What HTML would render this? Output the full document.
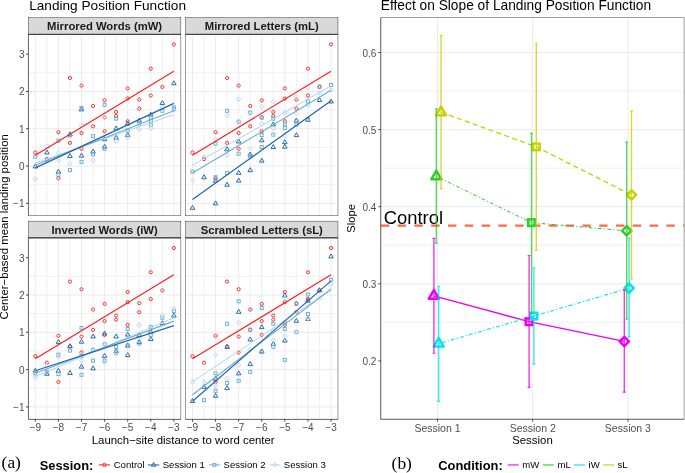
<!DOCTYPE html>
<html><head><meta charset="utf-8"><title>Landing Position Function</title>
<style>html,body{margin:0;padding:0;background:#fff;width:685px;height:473px;overflow:hidden;font-family:"Liberation Sans", sans-serif;}</style>
</head><body>
<svg width="685" height="473" viewBox="0 0 685 473" style="position:absolute;left:0;top:0;will-change:transform">
<rect width="685" height="473" fill="#fff"/>
<text x="29.2" y="10.1" font-family='"Liberation Sans", sans-serif' font-size="13.63" fill="#000">Landing Position Function</text>
<text x="380.8" y="10.1" font-family='"Liberation Sans", sans-serif' font-size="13.75" fill="#000">Effect on Slope of Landing Position Function</text>
<rect x="28.40" y="17.60" width="152.40" height="16.7" fill="#D9D9D9" stroke="#333333" stroke-width="0.6" stroke-opacity="0.8"/>
<text x="104.60" y="30.30" text-anchor="middle" font-family='"Liberation Sans", sans-serif' font-weight="bold" font-size="11.27" fill="#1A1A1A">Mirrored Words (mW)</text>
<rect x="28.40" y="34.30" width="152.40" height="181.40" fill="#fff"/>
<line x1="35.33" y1="34.30" x2="35.33" y2="215.70" stroke="#EBEBEB" stroke-width="1.0"/>
<line x1="46.87" y1="34.30" x2="46.87" y2="215.70" stroke="#EBEBEB" stroke-width="0.7"/>
<line x1="58.42" y1="34.30" x2="58.42" y2="215.70" stroke="#EBEBEB" stroke-width="1.0"/>
<line x1="69.96" y1="34.30" x2="69.96" y2="215.70" stroke="#EBEBEB" stroke-width="0.7"/>
<line x1="81.51" y1="34.30" x2="81.51" y2="215.70" stroke="#EBEBEB" stroke-width="1.0"/>
<line x1="93.05" y1="34.30" x2="93.05" y2="215.70" stroke="#EBEBEB" stroke-width="0.7"/>
<line x1="104.60" y1="34.30" x2="104.60" y2="215.70" stroke="#EBEBEB" stroke-width="1.0"/>
<line x1="116.15" y1="34.30" x2="116.15" y2="215.70" stroke="#EBEBEB" stroke-width="0.7"/>
<line x1="127.69" y1="34.30" x2="127.69" y2="215.70" stroke="#EBEBEB" stroke-width="1.0"/>
<line x1="139.24" y1="34.30" x2="139.24" y2="215.70" stroke="#EBEBEB" stroke-width="0.7"/>
<line x1="150.78" y1="34.30" x2="150.78" y2="215.70" stroke="#EBEBEB" stroke-width="1.0"/>
<line x1="162.33" y1="34.30" x2="162.33" y2="215.70" stroke="#EBEBEB" stroke-width="0.7"/>
<line x1="173.87" y1="34.30" x2="173.87" y2="215.70" stroke="#EBEBEB" stroke-width="1.0"/>
<line x1="28.40" y1="203.31" x2="180.80" y2="203.31" stroke="#EBEBEB" stroke-width="1.0"/>
<line x1="28.40" y1="184.66" x2="180.80" y2="184.66" stroke="#EBEBEB" stroke-width="0.7"/>
<line x1="28.40" y1="166.01" x2="180.80" y2="166.01" stroke="#EBEBEB" stroke-width="1.0"/>
<line x1="28.40" y1="147.36" x2="180.80" y2="147.36" stroke="#EBEBEB" stroke-width="0.7"/>
<line x1="28.40" y1="128.71" x2="180.80" y2="128.71" stroke="#EBEBEB" stroke-width="1.0"/>
<line x1="28.40" y1="110.06" x2="180.80" y2="110.06" stroke="#EBEBEB" stroke-width="0.7"/>
<line x1="28.40" y1="91.41" x2="180.80" y2="91.41" stroke="#EBEBEB" stroke-width="1.0"/>
<line x1="28.40" y1="72.76" x2="180.80" y2="72.76" stroke="#EBEBEB" stroke-width="0.7"/>
<circle cx="35.33" cy="152.58" r="1.6" fill="none" stroke="#FF1F1F" stroke-width="0.9"/>
<circle cx="46.87" cy="159.11" r="1.6" fill="none" stroke="#FF1F1F" stroke-width="0.9"/>
<circle cx="58.42" cy="132.25" r="1.6" fill="none" stroke="#FF1F1F" stroke-width="0.9"/>
<circle cx="58.42" cy="178.32" r="1.6" fill="none" stroke="#FF1F1F" stroke-width="0.9"/>
<circle cx="69.96" cy="77.98" r="1.6" fill="none" stroke="#FF1F1F" stroke-width="0.9"/>
<circle cx="69.96" cy="142.88" r="1.6" fill="none" stroke="#FF1F1F" stroke-width="0.9"/>
<circle cx="81.51" cy="85.62" r="1.6" fill="none" stroke="#FF1F1F" stroke-width="0.9"/>
<circle cx="81.51" cy="133.00" r="1.6" fill="none" stroke="#FF1F1F" stroke-width="0.9"/>
<circle cx="81.51" cy="148.85" r="1.6" fill="none" stroke="#FF1F1F" stroke-width="0.9"/>
<circle cx="93.05" cy="105.95" r="1.6" fill="none" stroke="#FF1F1F" stroke-width="0.9"/>
<circle cx="93.05" cy="126.28" r="1.6" fill="none" stroke="#FF1F1F" stroke-width="0.9"/>
<circle cx="104.60" cy="100.36" r="1.6" fill="none" stroke="#FF1F1F" stroke-width="0.9"/>
<circle cx="104.60" cy="117.52" r="1.6" fill="none" stroke="#FF1F1F" stroke-width="0.9"/>
<circle cx="104.60" cy="131.32" r="1.6" fill="none" stroke="#FF1F1F" stroke-width="0.9"/>
<circle cx="116.15" cy="111.92" r="1.6" fill="none" stroke="#FF1F1F" stroke-width="0.9"/>
<circle cx="116.15" cy="116.02" r="1.6" fill="none" stroke="#FF1F1F" stroke-width="0.9"/>
<circle cx="127.69" cy="88.42" r="1.6" fill="none" stroke="#FF1F1F" stroke-width="0.9"/>
<circle cx="127.69" cy="98.49" r="1.6" fill="none" stroke="#FF1F1F" stroke-width="0.9"/>
<circle cx="127.69" cy="121.25" r="1.6" fill="none" stroke="#FF1F1F" stroke-width="0.9"/>
<circle cx="139.24" cy="99.61" r="1.6" fill="none" stroke="#FF1F1F" stroke-width="0.9"/>
<circle cx="139.24" cy="108.56" r="1.6" fill="none" stroke="#FF1F1F" stroke-width="0.9"/>
<circle cx="150.78" cy="68.65" r="1.6" fill="none" stroke="#FF1F1F" stroke-width="0.9"/>
<circle cx="150.78" cy="95.51" r="1.6" fill="none" stroke="#FF1F1F" stroke-width="0.9"/>
<circle cx="162.33" cy="86.93" r="1.6" fill="none" stroke="#FF1F1F" stroke-width="0.9"/>
<circle cx="173.87" cy="44.41" r="1.6" fill="none" stroke="#FF1F1F" stroke-width="0.9"/>
<path d="M35.33 163.96L37.62 167.93L33.04 167.93Z" fill="none" stroke="#2166AC" stroke-width="0.95" stroke-linejoin="round"/>
<path d="M46.87 149.98L49.16 153.94L44.58 153.94Z" fill="none" stroke="#2166AC" stroke-width="0.95" stroke-linejoin="round"/>
<path d="M58.42 169.18L60.71 173.15L56.13 173.15Z" fill="none" stroke="#2166AC" stroke-width="0.95" stroke-linejoin="round"/>
<path d="M69.96 131.88L72.25 135.85L67.67 135.85Z" fill="none" stroke="#2166AC" stroke-width="0.95" stroke-linejoin="round"/>
<path d="M69.96 153.52L72.25 157.48L67.67 157.48Z" fill="none" stroke="#2166AC" stroke-width="0.95" stroke-linejoin="round"/>
<path d="M81.51 106.89L83.80 110.86L79.22 110.86Z" fill="none" stroke="#2166AC" stroke-width="0.95" stroke-linejoin="round"/>
<path d="M81.51 153.15L83.80 157.11L79.22 157.11Z" fill="none" stroke="#2166AC" stroke-width="0.95" stroke-linejoin="round"/>
<path d="M93.05 149.04L95.34 153.01L90.76 153.01Z" fill="none" stroke="#2166AC" stroke-width="0.95" stroke-linejoin="round"/>
<path d="M104.60 136.73L106.89 140.70L102.31 140.70Z" fill="none" stroke="#2166AC" stroke-width="0.95" stroke-linejoin="round"/>
<path d="M104.60 144.19L106.89 148.16L102.31 148.16Z" fill="none" stroke="#2166AC" stroke-width="0.95" stroke-linejoin="round"/>
<path d="M116.15 125.92L118.44 129.88L113.86 129.88Z" fill="none" stroke="#2166AC" stroke-width="0.95" stroke-linejoin="round"/>
<path d="M116.15 135.24L118.44 139.21L113.86 139.21Z" fill="none" stroke="#2166AC" stroke-width="0.95" stroke-linejoin="round"/>
<path d="M127.69 121.07L129.98 125.03L125.40 125.03Z" fill="none" stroke="#2166AC" stroke-width="0.95" stroke-linejoin="round"/>
<path d="M127.69 132.63L129.98 136.60L125.40 136.60Z" fill="none" stroke="#2166AC" stroke-width="0.95" stroke-linejoin="round"/>
<path d="M139.24 118.08L141.53 122.05L136.95 122.05Z" fill="none" stroke="#2166AC" stroke-width="0.95" stroke-linejoin="round"/>
<path d="M150.78 112.12L153.07 116.08L148.49 116.08Z" fill="none" stroke="#2166AC" stroke-width="0.95" stroke-linejoin="round"/>
<path d="M162.33 100.55L164.62 104.52L160.04 104.52Z" fill="none" stroke="#2166AC" stroke-width="0.95" stroke-linejoin="round"/>
<path d="M173.87 80.78L176.16 84.75L171.58 84.75Z" fill="none" stroke="#2166AC" stroke-width="0.95" stroke-linejoin="round"/>
<rect x="33.82" y="155.17" width="3.01" height="3.01" fill="none" stroke="#6BAED6" stroke-width="0.95"/>
<rect x="45.37" y="158.16" width="3.01" height="3.01" fill="none" stroke="#6BAED6" stroke-width="0.95"/>
<rect x="80.00" y="106.31" width="3.01" height="3.01" fill="none" stroke="#6BAED6" stroke-width="0.95"/>
<rect x="56.91" y="139.14" width="3.01" height="3.01" fill="none" stroke="#6BAED6" stroke-width="0.95"/>
<rect x="56.91" y="173.45" width="3.01" height="3.01" fill="none" stroke="#6BAED6" stroke-width="0.95"/>
<rect x="68.46" y="133.91" width="3.01" height="3.01" fill="none" stroke="#6BAED6" stroke-width="0.95"/>
<rect x="68.46" y="168.60" width="3.01" height="3.01" fill="none" stroke="#6BAED6" stroke-width="0.95"/>
<rect x="80.00" y="160.40" width="3.01" height="3.01" fill="none" stroke="#6BAED6" stroke-width="0.95"/>
<rect x="91.55" y="134.66" width="3.01" height="3.01" fill="none" stroke="#6BAED6" stroke-width="0.95"/>
<rect x="91.55" y="152.94" width="3.01" height="3.01" fill="none" stroke="#6BAED6" stroke-width="0.95"/>
<rect x="103.09" y="103.33" width="3.01" height="3.01" fill="none" stroke="#6BAED6" stroke-width="0.95"/>
<rect x="103.09" y="147.34" width="3.01" height="3.01" fill="none" stroke="#6BAED6" stroke-width="0.95"/>
<rect x="114.64" y="117.13" width="3.01" height="3.01" fill="none" stroke="#6BAED6" stroke-width="0.95"/>
<rect x="126.18" y="129.06" width="3.01" height="3.01" fill="none" stroke="#6BAED6" stroke-width="0.95"/>
<rect x="137.73" y="121.98" width="3.01" height="3.01" fill="none" stroke="#6BAED6" stroke-width="0.95"/>
<rect x="149.28" y="116.01" width="3.01" height="3.01" fill="none" stroke="#6BAED6" stroke-width="0.95"/>
<rect x="149.28" y="119.37" width="3.01" height="3.01" fill="none" stroke="#6BAED6" stroke-width="0.95"/>
<rect x="149.28" y="123.10" width="3.01" height="3.01" fill="none" stroke="#6BAED6" stroke-width="0.95"/>
<rect x="160.82" y="109.30" width="3.01" height="3.01" fill="none" stroke="#6BAED6" stroke-width="0.95"/>
<rect x="172.37" y="105.94" width="3.01" height="3.01" fill="none" stroke="#6BAED6" stroke-width="0.95"/>
<rect x="172.37" y="107.43" width="3.01" height="3.01" fill="none" stroke="#6BAED6" stroke-width="0.95"/>
<path d="M35.33 176.87L37.52 179.06L35.33 181.25L33.13 179.06Z" fill="none" stroke="#B3D3EA" stroke-width="0.95" stroke-linejoin="round"/>
<path d="M46.87 143.67L49.07 145.86L46.87 148.06L44.68 145.86Z" fill="none" stroke="#B3D3EA" stroke-width="0.95" stroke-linejoin="round"/>
<path d="M58.42 150.76L60.61 152.95L58.42 155.14L56.22 152.95Z" fill="none" stroke="#B3D3EA" stroke-width="0.95" stroke-linejoin="round"/>
<path d="M58.42 158.22L60.61 160.41L58.42 162.60L56.22 160.41Z" fill="none" stroke="#B3D3EA" stroke-width="0.95" stroke-linejoin="round"/>
<path d="M69.96 161.39L72.16 163.58L69.96 165.78L67.77 163.58Z" fill="none" stroke="#B3D3EA" stroke-width="0.95" stroke-linejoin="round"/>
<path d="M81.51 123.16L83.70 125.35L81.51 127.54L79.32 125.35Z" fill="none" stroke="#B3D3EA" stroke-width="0.95" stroke-linejoin="round"/>
<path d="M93.05 158.22L95.25 160.41L93.05 162.60L90.86 160.41Z" fill="none" stroke="#B3D3EA" stroke-width="0.95" stroke-linejoin="round"/>
<path d="M104.60 115.32L106.79 117.52L104.60 119.71L102.41 117.52Z" fill="none" stroke="#B3D3EA" stroke-width="0.95" stroke-linejoin="round"/>
<path d="M116.15 138.82L118.34 141.02L116.15 143.21L113.95 141.02Z" fill="none" stroke="#B3D3EA" stroke-width="0.95" stroke-linejoin="round"/>
<path d="M127.69 135.47L129.88 137.66L127.69 139.85L125.50 137.66Z" fill="none" stroke="#B3D3EA" stroke-width="0.95" stroke-linejoin="round"/>
<path d="M139.24 127.26L141.43 129.45L139.24 131.65L137.04 129.45Z" fill="none" stroke="#B3D3EA" stroke-width="0.95" stroke-linejoin="round"/>
<path d="M150.78 126.14L152.98 128.33L150.78 130.53L148.59 128.33Z" fill="none" stroke="#B3D3EA" stroke-width="0.95" stroke-linejoin="round"/>
<path d="M162.33 105.25L164.52 107.45L162.33 109.64L160.13 107.45Z" fill="none" stroke="#B3D3EA" stroke-width="0.95" stroke-linejoin="round"/>
<path d="M173.87 107.86L176.07 110.06L173.87 112.25L171.68 110.06Z" fill="none" stroke="#B3D3EA" stroke-width="0.95" stroke-linejoin="round"/>
<line x1="35.33" y1="163.02" x2="173.87" y2="114.53" stroke="#B3D3EA" stroke-width="1.0"/>
<line x1="35.33" y1="164.89" x2="173.87" y2="110.80" stroke="#6BAED6" stroke-width="1.1"/>
<line x1="35.33" y1="167.87" x2="173.87" y2="103.34" stroke="#2166AC" stroke-width="1.2"/>
<line x1="35.33" y1="155.26" x2="173.87" y2="71.15" stroke="#FF1F1F" stroke-width="1.2"/>
<rect x="28.40" y="34.30" width="152.40" height="181.40" fill="none" stroke="#333333" stroke-width="0.6" stroke-opacity="0.8"/>
<line x1="28.40" y1="34.30" x2="180.80" y2="34.30" stroke="#333" stroke-width="1"/>
<line x1="26.00" y1="54.11" x2="28.40" y2="54.11" stroke="#333" stroke-width="0.9"/>
<text x="24.50" y="58.11" text-anchor="end" font-family='"Liberation Sans", sans-serif' font-size="10" fill="#4D4D4D">3</text>
<line x1="26.00" y1="91.41" x2="28.40" y2="91.41" stroke="#333" stroke-width="0.9"/>
<text x="24.50" y="95.41" text-anchor="end" font-family='"Liberation Sans", sans-serif' font-size="10" fill="#4D4D4D">2</text>
<line x1="26.00" y1="128.71" x2="28.40" y2="128.71" stroke="#333" stroke-width="0.9"/>
<text x="24.50" y="132.71" text-anchor="end" font-family='"Liberation Sans", sans-serif' font-size="10" fill="#4D4D4D">1</text>
<line x1="26.00" y1="166.01" x2="28.40" y2="166.01" stroke="#333" stroke-width="0.9"/>
<text x="24.50" y="170.01" text-anchor="end" font-family='"Liberation Sans", sans-serif' font-size="10" fill="#4D4D4D">0</text>
<line x1="26.00" y1="203.31" x2="28.40" y2="203.31" stroke="#333" stroke-width="0.9"/>
<text x="24.50" y="207.31" text-anchor="end" font-family='"Liberation Sans", sans-serif' font-size="10" fill="#4D4D4D">−1</text>
<line x1="28.40" y1="34.30" x2="28.40" y2="215.70" stroke="#333" stroke-width="0.8" stroke-opacity="0.6"/>
<rect x="185.55" y="17.60" width="152.40" height="16.7" fill="#D9D9D9" stroke="#333333" stroke-width="0.6" stroke-opacity="0.8"/>
<text x="261.75" y="30.30" text-anchor="middle" font-family='"Liberation Sans", sans-serif' font-weight="bold" font-size="11.27" fill="#1A1A1A">Mirrored Letters (mL)</text>
<rect x="185.55" y="34.30" width="152.40" height="181.40" fill="#fff"/>
<line x1="192.48" y1="34.30" x2="192.48" y2="215.70" stroke="#EBEBEB" stroke-width="1.0"/>
<line x1="204.02" y1="34.30" x2="204.02" y2="215.70" stroke="#EBEBEB" stroke-width="0.7"/>
<line x1="215.57" y1="34.30" x2="215.57" y2="215.70" stroke="#EBEBEB" stroke-width="1.0"/>
<line x1="227.11" y1="34.30" x2="227.11" y2="215.70" stroke="#EBEBEB" stroke-width="0.7"/>
<line x1="238.66" y1="34.30" x2="238.66" y2="215.70" stroke="#EBEBEB" stroke-width="1.0"/>
<line x1="250.20" y1="34.30" x2="250.20" y2="215.70" stroke="#EBEBEB" stroke-width="0.7"/>
<line x1="261.75" y1="34.30" x2="261.75" y2="215.70" stroke="#EBEBEB" stroke-width="1.0"/>
<line x1="273.30" y1="34.30" x2="273.30" y2="215.70" stroke="#EBEBEB" stroke-width="0.7"/>
<line x1="284.84" y1="34.30" x2="284.84" y2="215.70" stroke="#EBEBEB" stroke-width="1.0"/>
<line x1="296.39" y1="34.30" x2="296.39" y2="215.70" stroke="#EBEBEB" stroke-width="0.7"/>
<line x1="307.93" y1="34.30" x2="307.93" y2="215.70" stroke="#EBEBEB" stroke-width="1.0"/>
<line x1="319.48" y1="34.30" x2="319.48" y2="215.70" stroke="#EBEBEB" stroke-width="0.7"/>
<line x1="331.02" y1="34.30" x2="331.02" y2="215.70" stroke="#EBEBEB" stroke-width="1.0"/>
<line x1="185.55" y1="203.31" x2="337.95" y2="203.31" stroke="#EBEBEB" stroke-width="1.0"/>
<line x1="185.55" y1="184.66" x2="337.95" y2="184.66" stroke="#EBEBEB" stroke-width="0.7"/>
<line x1="185.55" y1="166.01" x2="337.95" y2="166.01" stroke="#EBEBEB" stroke-width="1.0"/>
<line x1="185.55" y1="147.36" x2="337.95" y2="147.36" stroke="#EBEBEB" stroke-width="0.7"/>
<line x1="185.55" y1="128.71" x2="337.95" y2="128.71" stroke="#EBEBEB" stroke-width="1.0"/>
<line x1="185.55" y1="110.06" x2="337.95" y2="110.06" stroke="#EBEBEB" stroke-width="0.7"/>
<line x1="185.55" y1="91.41" x2="337.95" y2="91.41" stroke="#EBEBEB" stroke-width="1.0"/>
<line x1="185.55" y1="72.76" x2="337.95" y2="72.76" stroke="#EBEBEB" stroke-width="0.7"/>
<circle cx="192.48" cy="152.58" r="1.6" fill="none" stroke="#FF1F1F" stroke-width="0.9"/>
<circle cx="204.02" cy="159.11" r="1.6" fill="none" stroke="#FF1F1F" stroke-width="0.9"/>
<circle cx="215.57" cy="132.25" r="1.6" fill="none" stroke="#FF1F1F" stroke-width="0.9"/>
<circle cx="215.57" cy="178.32" r="1.6" fill="none" stroke="#FF1F1F" stroke-width="0.9"/>
<circle cx="227.11" cy="77.98" r="1.6" fill="none" stroke="#FF1F1F" stroke-width="0.9"/>
<circle cx="227.11" cy="142.88" r="1.6" fill="none" stroke="#FF1F1F" stroke-width="0.9"/>
<circle cx="238.66" cy="85.62" r="1.6" fill="none" stroke="#FF1F1F" stroke-width="0.9"/>
<circle cx="238.66" cy="133.00" r="1.6" fill="none" stroke="#FF1F1F" stroke-width="0.9"/>
<circle cx="238.66" cy="148.85" r="1.6" fill="none" stroke="#FF1F1F" stroke-width="0.9"/>
<circle cx="250.20" cy="105.95" r="1.6" fill="none" stroke="#FF1F1F" stroke-width="0.9"/>
<circle cx="250.20" cy="126.28" r="1.6" fill="none" stroke="#FF1F1F" stroke-width="0.9"/>
<circle cx="261.75" cy="100.36" r="1.6" fill="none" stroke="#FF1F1F" stroke-width="0.9"/>
<circle cx="261.75" cy="117.52" r="1.6" fill="none" stroke="#FF1F1F" stroke-width="0.9"/>
<circle cx="261.75" cy="131.32" r="1.6" fill="none" stroke="#FF1F1F" stroke-width="0.9"/>
<circle cx="273.30" cy="111.92" r="1.6" fill="none" stroke="#FF1F1F" stroke-width="0.9"/>
<circle cx="273.30" cy="116.02" r="1.6" fill="none" stroke="#FF1F1F" stroke-width="0.9"/>
<circle cx="284.84" cy="88.42" r="1.6" fill="none" stroke="#FF1F1F" stroke-width="0.9"/>
<circle cx="284.84" cy="98.49" r="1.6" fill="none" stroke="#FF1F1F" stroke-width="0.9"/>
<circle cx="284.84" cy="121.25" r="1.6" fill="none" stroke="#FF1F1F" stroke-width="0.9"/>
<circle cx="296.39" cy="99.61" r="1.6" fill="none" stroke="#FF1F1F" stroke-width="0.9"/>
<circle cx="296.39" cy="108.56" r="1.6" fill="none" stroke="#FF1F1F" stroke-width="0.9"/>
<circle cx="307.93" cy="68.65" r="1.6" fill="none" stroke="#FF1F1F" stroke-width="0.9"/>
<circle cx="307.93" cy="95.51" r="1.6" fill="none" stroke="#FF1F1F" stroke-width="0.9"/>
<circle cx="319.48" cy="86.93" r="1.6" fill="none" stroke="#FF1F1F" stroke-width="0.9"/>
<circle cx="331.02" cy="44.41" r="1.6" fill="none" stroke="#FF1F1F" stroke-width="0.9"/>
<path d="M192.48 205.37L194.77 209.33L190.19 209.33Z" fill="none" stroke="#2166AC" stroke-width="0.95" stroke-linejoin="round"/>
<path d="M204.02 174.78L206.31 178.75L201.73 178.75Z" fill="none" stroke="#2166AC" stroke-width="0.95" stroke-linejoin="round"/>
<path d="M215.57 200.89L217.86 204.86L213.28 204.86Z" fill="none" stroke="#2166AC" stroke-width="0.95" stroke-linejoin="round"/>
<path d="M215.57 178.14L217.86 182.10L213.28 182.10Z" fill="none" stroke="#2166AC" stroke-width="0.95" stroke-linejoin="round"/>
<path d="M227.11 146.80L229.40 150.77L224.82 150.77Z" fill="none" stroke="#2166AC" stroke-width="0.95" stroke-linejoin="round"/>
<path d="M227.11 182.24L229.40 186.21L224.82 186.21Z" fill="none" stroke="#2166AC" stroke-width="0.95" stroke-linejoin="round"/>
<path d="M238.66 138.97L240.95 142.94L236.37 142.94Z" fill="none" stroke="#2166AC" stroke-width="0.95" stroke-linejoin="round"/>
<path d="M238.66 170.30L240.95 174.27L236.37 174.27Z" fill="none" stroke="#2166AC" stroke-width="0.95" stroke-linejoin="round"/>
<path d="M238.66 178.14L240.95 182.10L236.37 182.10Z" fill="none" stroke="#2166AC" stroke-width="0.95" stroke-linejoin="round"/>
<path d="M250.20 152.03L252.49 155.99L247.91 155.99Z" fill="none" stroke="#2166AC" stroke-width="0.95" stroke-linejoin="round"/>
<path d="M250.20 167.69L252.49 171.66L247.91 171.66Z" fill="none" stroke="#2166AC" stroke-width="0.95" stroke-linejoin="round"/>
<path d="M261.75 137.85L264.04 141.82L259.46 141.82Z" fill="none" stroke="#2166AC" stroke-width="0.95" stroke-linejoin="round"/>
<path d="M261.75 158.18L264.04 162.15L259.46 162.15Z" fill="none" stroke="#2166AC" stroke-width="0.95" stroke-linejoin="round"/>
<path d="M273.30 121.81L275.59 125.78L271.01 125.78Z" fill="none" stroke="#2166AC" stroke-width="0.95" stroke-linejoin="round"/>
<path d="M273.30 144.57L275.59 148.53L271.01 148.53Z" fill="none" stroke="#2166AC" stroke-width="0.95" stroke-linejoin="round"/>
<path d="M284.84 139.72L287.13 143.68L282.55 143.68Z" fill="none" stroke="#2166AC" stroke-width="0.95" stroke-linejoin="round"/>
<path d="M284.84 144.19L287.13 148.16L282.55 148.16Z" fill="none" stroke="#2166AC" stroke-width="0.95" stroke-linejoin="round"/>
<path d="M296.39 118.08L298.68 122.05L294.10 122.05Z" fill="none" stroke="#2166AC" stroke-width="0.95" stroke-linejoin="round"/>
<path d="M296.39 132.63L298.68 136.60L294.10 136.60Z" fill="none" stroke="#2166AC" stroke-width="0.95" stroke-linejoin="round"/>
<path d="M307.93 117.34L310.22 121.30L305.64 121.30Z" fill="none" stroke="#2166AC" stroke-width="0.95" stroke-linejoin="round"/>
<path d="M319.48 97.57L321.77 101.53L317.19 101.53Z" fill="none" stroke="#2166AC" stroke-width="0.95" stroke-linejoin="round"/>
<path d="M331.02 99.06L333.31 103.03L328.73 103.03Z" fill="none" stroke="#2166AC" stroke-width="0.95" stroke-linejoin="round"/>
<rect x="190.97" y="170.09" width="3.01" height="3.01" fill="none" stroke="#6BAED6" stroke-width="0.95"/>
<rect x="214.06" y="142.12" width="3.01" height="3.01" fill="none" stroke="#6BAED6" stroke-width="0.95"/>
<rect x="214.06" y="175.69" width="3.01" height="3.01" fill="none" stroke="#6BAED6" stroke-width="0.95"/>
<rect x="225.61" y="109.30" width="3.01" height="3.01" fill="none" stroke="#6BAED6" stroke-width="0.95"/>
<rect x="225.61" y="171.59" width="3.01" height="3.01" fill="none" stroke="#6BAED6" stroke-width="0.95"/>
<rect x="237.15" y="120.11" width="3.01" height="3.01" fill="none" stroke="#6BAED6" stroke-width="0.95"/>
<rect x="237.15" y="152.19" width="3.01" height="3.01" fill="none" stroke="#6BAED6" stroke-width="0.95"/>
<rect x="248.70" y="111.16" width="3.01" height="3.01" fill="none" stroke="#6BAED6" stroke-width="0.95"/>
<rect x="248.70" y="154.80" width="3.01" height="3.01" fill="none" stroke="#6BAED6" stroke-width="0.95"/>
<rect x="260.24" y="116.01" width="3.01" height="3.01" fill="none" stroke="#6BAED6" stroke-width="0.95"/>
<rect x="260.24" y="133.54" width="3.01" height="3.01" fill="none" stroke="#6BAED6" stroke-width="0.95"/>
<rect x="260.24" y="145.48" width="3.01" height="3.01" fill="none" stroke="#6BAED6" stroke-width="0.95"/>
<rect x="271.79" y="117.13" width="3.01" height="3.01" fill="none" stroke="#6BAED6" stroke-width="0.95"/>
<rect x="271.79" y="133.17" width="3.01" height="3.01" fill="none" stroke="#6BAED6" stroke-width="0.95"/>
<rect x="283.33" y="122.35" width="3.01" height="3.01" fill="none" stroke="#6BAED6" stroke-width="0.95"/>
<rect x="283.33" y="126.45" width="3.01" height="3.01" fill="none" stroke="#6BAED6" stroke-width="0.95"/>
<rect x="294.88" y="123.10" width="3.01" height="3.01" fill="none" stroke="#6BAED6" stroke-width="0.95"/>
<rect x="306.43" y="99.97" width="3.01" height="3.01" fill="none" stroke="#6BAED6" stroke-width="0.95"/>
<rect x="306.43" y="117.87" width="3.01" height="3.01" fill="none" stroke="#6BAED6" stroke-width="0.95"/>
<rect x="317.97" y="85.05" width="3.01" height="3.01" fill="none" stroke="#6BAED6" stroke-width="0.95"/>
<rect x="329.52" y="83.56" width="3.01" height="3.01" fill="none" stroke="#6BAED6" stroke-width="0.95"/>
<path d="M192.48 178.36L194.67 180.55L192.48 182.75L190.28 180.55Z" fill="none" stroke="#B3D3EA" stroke-width="0.95" stroke-linejoin="round"/>
<path d="M204.02 154.86L206.22 157.05L204.02 159.25L201.83 157.05Z" fill="none" stroke="#B3D3EA" stroke-width="0.95" stroke-linejoin="round"/>
<path d="M215.57 136.96L217.76 139.15L215.57 141.34L213.37 139.15Z" fill="none" stroke="#B3D3EA" stroke-width="0.95" stroke-linejoin="round"/>
<path d="M227.11 113.46L229.31 115.65L227.11 117.84L224.92 115.65Z" fill="none" stroke="#B3D3EA" stroke-width="0.95" stroke-linejoin="round"/>
<path d="M227.11 153.00L229.31 155.19L227.11 157.38L224.92 155.19Z" fill="none" stroke="#B3D3EA" stroke-width="0.95" stroke-linejoin="round"/>
<path d="M238.66 97.05L240.85 99.24L238.66 101.43L236.47 99.24Z" fill="none" stroke="#B3D3EA" stroke-width="0.95" stroke-linejoin="round"/>
<path d="M250.20 111.59L252.40 113.79L250.20 115.98L248.01 113.79Z" fill="none" stroke="#B3D3EA" stroke-width="0.95" stroke-linejoin="round"/>
<path d="M250.20 146.28L252.40 148.48L250.20 150.67L248.01 148.48Z" fill="none" stroke="#B3D3EA" stroke-width="0.95" stroke-linejoin="round"/>
<path d="M261.75 104.13L263.94 106.33L261.75 108.52L259.56 106.33Z" fill="none" stroke="#B3D3EA" stroke-width="0.95" stroke-linejoin="round"/>
<path d="M261.75 121.66L263.94 123.86L261.75 126.05L259.56 123.86Z" fill="none" stroke="#B3D3EA" stroke-width="0.95" stroke-linejoin="round"/>
<path d="M273.30 99.66L275.49 101.85L273.30 104.04L271.10 101.85Z" fill="none" stroke="#B3D3EA" stroke-width="0.95" stroke-linejoin="round"/>
<path d="M273.30 126.14L275.49 128.33L273.30 130.53L271.10 128.33Z" fill="none" stroke="#B3D3EA" stroke-width="0.95" stroke-linejoin="round"/>
<path d="M284.84 110.85L287.03 113.04L284.84 115.23L282.65 113.04Z" fill="none" stroke="#B3D3EA" stroke-width="0.95" stroke-linejoin="round"/>
<path d="M284.84 133.60L287.03 135.79L284.84 137.99L282.65 135.79Z" fill="none" stroke="#B3D3EA" stroke-width="0.95" stroke-linejoin="round"/>
<path d="M296.39 94.81L298.58 97.00L296.39 99.19L294.19 97.00Z" fill="none" stroke="#B3D3EA" stroke-width="0.95" stroke-linejoin="round"/>
<path d="M296.39 111.22L298.58 113.41L296.39 115.61L294.19 113.41Z" fill="none" stroke="#B3D3EA" stroke-width="0.95" stroke-linejoin="round"/>
<path d="M307.93 85.48L310.13 87.68L307.93 89.87L305.74 87.68Z" fill="none" stroke="#B3D3EA" stroke-width="0.95" stroke-linejoin="round"/>
<path d="M307.93 102.64L310.13 104.83L307.93 107.03L305.74 104.83Z" fill="none" stroke="#B3D3EA" stroke-width="0.95" stroke-linejoin="round"/>
<path d="M319.48 90.71L321.67 92.90L319.48 95.09L317.28 92.90Z" fill="none" stroke="#B3D3EA" stroke-width="0.95" stroke-linejoin="round"/>
<path d="M331.02 87.72L333.22 89.91L331.02 92.11L328.83 89.91Z" fill="none" stroke="#B3D3EA" stroke-width="0.95" stroke-linejoin="round"/>
<line x1="192.48" y1="165.26" x2="331.02" y2="85.81" stroke="#B3D3EA" stroke-width="1.0"/>
<line x1="192.48" y1="173.09" x2="331.02" y2="90.29" stroke="#6BAED6" stroke-width="1.1"/>
<line x1="192.48" y1="199.58" x2="331.02" y2="100.73" stroke="#2166AC" stroke-width="1.2"/>
<line x1="192.48" y1="155.26" x2="331.02" y2="71.15" stroke="#FF1F1F" stroke-width="1.2"/>
<rect x="185.55" y="34.30" width="152.40" height="181.40" fill="none" stroke="#333333" stroke-width="0.6" stroke-opacity="0.8"/>
<line x1="185.55" y1="34.30" x2="337.95" y2="34.30" stroke="#333" stroke-width="1"/>
<rect x="28.40" y="221.20" width="152.40" height="16.7" fill="#D9D9D9" stroke="#333333" stroke-width="0.6" stroke-opacity="0.8"/>
<text x="104.60" y="233.90" text-anchor="middle" font-family='"Liberation Sans", sans-serif' font-weight="bold" font-size="11.27" fill="#1A1A1A">Inverted Words (iW)</text>
<rect x="28.40" y="237.90" width="152.40" height="181.40" fill="#fff"/>
<line x1="35.33" y1="237.90" x2="35.33" y2="419.30" stroke="#EBEBEB" stroke-width="1.0"/>
<line x1="46.87" y1="237.90" x2="46.87" y2="419.30" stroke="#EBEBEB" stroke-width="0.7"/>
<line x1="58.42" y1="237.90" x2="58.42" y2="419.30" stroke="#EBEBEB" stroke-width="1.0"/>
<line x1="69.96" y1="237.90" x2="69.96" y2="419.30" stroke="#EBEBEB" stroke-width="0.7"/>
<line x1="81.51" y1="237.90" x2="81.51" y2="419.30" stroke="#EBEBEB" stroke-width="1.0"/>
<line x1="93.05" y1="237.90" x2="93.05" y2="419.30" stroke="#EBEBEB" stroke-width="0.7"/>
<line x1="104.60" y1="237.90" x2="104.60" y2="419.30" stroke="#EBEBEB" stroke-width="1.0"/>
<line x1="116.15" y1="237.90" x2="116.15" y2="419.30" stroke="#EBEBEB" stroke-width="0.7"/>
<line x1="127.69" y1="237.90" x2="127.69" y2="419.30" stroke="#EBEBEB" stroke-width="1.0"/>
<line x1="139.24" y1="237.90" x2="139.24" y2="419.30" stroke="#EBEBEB" stroke-width="0.7"/>
<line x1="150.78" y1="237.90" x2="150.78" y2="419.30" stroke="#EBEBEB" stroke-width="1.0"/>
<line x1="162.33" y1="237.90" x2="162.33" y2="419.30" stroke="#EBEBEB" stroke-width="0.7"/>
<line x1="173.87" y1="237.90" x2="173.87" y2="419.30" stroke="#EBEBEB" stroke-width="1.0"/>
<line x1="28.40" y1="406.91" x2="180.80" y2="406.91" stroke="#EBEBEB" stroke-width="1.0"/>
<line x1="28.40" y1="388.26" x2="180.80" y2="388.26" stroke="#EBEBEB" stroke-width="0.7"/>
<line x1="28.40" y1="369.61" x2="180.80" y2="369.61" stroke="#EBEBEB" stroke-width="1.0"/>
<line x1="28.40" y1="350.96" x2="180.80" y2="350.96" stroke="#EBEBEB" stroke-width="0.7"/>
<line x1="28.40" y1="332.31" x2="180.80" y2="332.31" stroke="#EBEBEB" stroke-width="1.0"/>
<line x1="28.40" y1="313.66" x2="180.80" y2="313.66" stroke="#EBEBEB" stroke-width="0.7"/>
<line x1="28.40" y1="295.01" x2="180.80" y2="295.01" stroke="#EBEBEB" stroke-width="1.0"/>
<line x1="28.40" y1="276.36" x2="180.80" y2="276.36" stroke="#EBEBEB" stroke-width="0.7"/>
<circle cx="35.33" cy="356.18" r="1.6" fill="none" stroke="#FF1F1F" stroke-width="0.9"/>
<circle cx="46.87" cy="362.71" r="1.6" fill="none" stroke="#FF1F1F" stroke-width="0.9"/>
<circle cx="58.42" cy="335.85" r="1.6" fill="none" stroke="#FF1F1F" stroke-width="0.9"/>
<circle cx="58.42" cy="381.92" r="1.6" fill="none" stroke="#FF1F1F" stroke-width="0.9"/>
<circle cx="69.96" cy="281.58" r="1.6" fill="none" stroke="#FF1F1F" stroke-width="0.9"/>
<circle cx="69.96" cy="346.48" r="1.6" fill="none" stroke="#FF1F1F" stroke-width="0.9"/>
<circle cx="81.51" cy="289.22" r="1.6" fill="none" stroke="#FF1F1F" stroke-width="0.9"/>
<circle cx="81.51" cy="336.60" r="1.6" fill="none" stroke="#FF1F1F" stroke-width="0.9"/>
<circle cx="81.51" cy="352.45" r="1.6" fill="none" stroke="#FF1F1F" stroke-width="0.9"/>
<circle cx="93.05" cy="309.55" r="1.6" fill="none" stroke="#FF1F1F" stroke-width="0.9"/>
<circle cx="93.05" cy="329.88" r="1.6" fill="none" stroke="#FF1F1F" stroke-width="0.9"/>
<circle cx="104.60" cy="303.96" r="1.6" fill="none" stroke="#FF1F1F" stroke-width="0.9"/>
<circle cx="104.60" cy="321.12" r="1.6" fill="none" stroke="#FF1F1F" stroke-width="0.9"/>
<circle cx="104.60" cy="334.92" r="1.6" fill="none" stroke="#FF1F1F" stroke-width="0.9"/>
<circle cx="116.15" cy="315.52" r="1.6" fill="none" stroke="#FF1F1F" stroke-width="0.9"/>
<circle cx="116.15" cy="319.62" r="1.6" fill="none" stroke="#FF1F1F" stroke-width="0.9"/>
<circle cx="127.69" cy="292.02" r="1.6" fill="none" stroke="#FF1F1F" stroke-width="0.9"/>
<circle cx="127.69" cy="302.09" r="1.6" fill="none" stroke="#FF1F1F" stroke-width="0.9"/>
<circle cx="127.69" cy="324.85" r="1.6" fill="none" stroke="#FF1F1F" stroke-width="0.9"/>
<circle cx="139.24" cy="303.21" r="1.6" fill="none" stroke="#FF1F1F" stroke-width="0.9"/>
<circle cx="139.24" cy="312.16" r="1.6" fill="none" stroke="#FF1F1F" stroke-width="0.9"/>
<circle cx="150.78" cy="272.25" r="1.6" fill="none" stroke="#FF1F1F" stroke-width="0.9"/>
<circle cx="150.78" cy="299.11" r="1.6" fill="none" stroke="#FF1F1F" stroke-width="0.9"/>
<circle cx="162.33" cy="290.53" r="1.6" fill="none" stroke="#FF1F1F" stroke-width="0.9"/>
<circle cx="173.87" cy="248.01" r="1.6" fill="none" stroke="#FF1F1F" stroke-width="0.9"/>
<path d="M35.33 368.31L37.62 372.27L33.04 372.27Z" fill="none" stroke="#2166AC" stroke-width="0.95" stroke-linejoin="round"/>
<path d="M46.87 371.29L49.16 375.26L44.58 375.26Z" fill="none" stroke="#2166AC" stroke-width="0.95" stroke-linejoin="round"/>
<path d="M58.42 339.59L60.71 343.55L56.13 343.55Z" fill="none" stroke="#2166AC" stroke-width="0.95" stroke-linejoin="round"/>
<path d="M58.42 368.31L60.71 372.27L56.13 372.27Z" fill="none" stroke="#2166AC" stroke-width="0.95" stroke-linejoin="round"/>
<path d="M69.96 343.69L72.25 347.66L67.67 347.66Z" fill="none" stroke="#2166AC" stroke-width="0.95" stroke-linejoin="round"/>
<path d="M69.96 370.55L72.25 374.51L67.67 374.51Z" fill="none" stroke="#2166AC" stroke-width="0.95" stroke-linejoin="round"/>
<path d="M81.51 339.21L83.80 343.18L79.22 343.18Z" fill="none" stroke="#2166AC" stroke-width="0.95" stroke-linejoin="round"/>
<path d="M81.51 364.21L83.80 368.17L79.22 368.17Z" fill="none" stroke="#2166AC" stroke-width="0.95" stroke-linejoin="round"/>
<path d="M93.05 333.99L95.34 337.96L90.76 337.96Z" fill="none" stroke="#2166AC" stroke-width="0.95" stroke-linejoin="round"/>
<path d="M93.05 365.88L95.34 369.85L90.76 369.85Z" fill="none" stroke="#2166AC" stroke-width="0.95" stroke-linejoin="round"/>
<path d="M104.60 331.01L106.89 334.97L102.31 334.97Z" fill="none" stroke="#2166AC" stroke-width="0.95" stroke-linejoin="round"/>
<path d="M104.60 353.39L106.89 357.35L102.31 357.35Z" fill="none" stroke="#2166AC" stroke-width="0.95" stroke-linejoin="round"/>
<path d="M116.15 333.99L118.44 337.96L113.86 337.96Z" fill="none" stroke="#2166AC" stroke-width="0.95" stroke-linejoin="round"/>
<path d="M116.15 348.54L118.44 352.51L113.86 352.51Z" fill="none" stroke="#2166AC" stroke-width="0.95" stroke-linejoin="round"/>
<path d="M127.69 332.13L129.98 336.09L125.40 336.09Z" fill="none" stroke="#2166AC" stroke-width="0.95" stroke-linejoin="round"/>
<path d="M127.69 342.94L129.98 346.91L125.40 346.91Z" fill="none" stroke="#2166AC" stroke-width="0.95" stroke-linejoin="round"/>
<path d="M127.69 352.64L129.98 356.61L125.40 356.61Z" fill="none" stroke="#2166AC" stroke-width="0.95" stroke-linejoin="round"/>
<path d="M139.24 332.87L141.53 336.84L136.95 336.84Z" fill="none" stroke="#2166AC" stroke-width="0.95" stroke-linejoin="round"/>
<path d="M139.24 339.59L141.53 343.55L136.95 343.55Z" fill="none" stroke="#2166AC" stroke-width="0.95" stroke-linejoin="round"/>
<path d="M150.78 329.52L153.07 333.48L148.49 333.48Z" fill="none" stroke="#2166AC" stroke-width="0.95" stroke-linejoin="round"/>
<path d="M150.78 336.60L153.07 340.57L148.49 340.57Z" fill="none" stroke="#2166AC" stroke-width="0.95" stroke-linejoin="round"/>
<path d="M162.33 320.75L164.62 324.72L160.04 324.72Z" fill="none" stroke="#2166AC" stroke-width="0.95" stroke-linejoin="round"/>
<path d="M173.87 313.10L176.16 317.07L171.58 317.07Z" fill="none" stroke="#2166AC" stroke-width="0.95" stroke-linejoin="round"/>
<rect x="33.82" y="371.83" width="3.01" height="3.01" fill="none" stroke="#6BAED6" stroke-width="0.95"/>
<rect x="45.37" y="370.34" width="3.01" height="3.01" fill="none" stroke="#6BAED6" stroke-width="0.95"/>
<rect x="56.91" y="353.18" width="3.01" height="3.01" fill="none" stroke="#6BAED6" stroke-width="0.95"/>
<rect x="56.91" y="372.58" width="3.01" height="3.01" fill="none" stroke="#6BAED6" stroke-width="0.95"/>
<rect x="68.46" y="349.08" width="3.01" height="3.01" fill="none" stroke="#6BAED6" stroke-width="0.95"/>
<rect x="80.00" y="326.51" width="3.01" height="3.01" fill="none" stroke="#6BAED6" stroke-width="0.95"/>
<rect x="80.00" y="354.67" width="3.01" height="3.01" fill="none" stroke="#6BAED6" stroke-width="0.95"/>
<rect x="80.00" y="373.32" width="3.01" height="3.01" fill="none" stroke="#6BAED6" stroke-width="0.95"/>
<rect x="91.55" y="348.52" width="3.01" height="3.01" fill="none" stroke="#6BAED6" stroke-width="0.95"/>
<rect x="91.55" y="359.15" width="3.01" height="3.01" fill="none" stroke="#6BAED6" stroke-width="0.95"/>
<rect x="103.09" y="342.74" width="3.01" height="3.01" fill="none" stroke="#6BAED6" stroke-width="0.95"/>
<rect x="103.09" y="359.15" width="3.01" height="3.01" fill="none" stroke="#6BAED6" stroke-width="0.95"/>
<rect x="114.64" y="345.35" width="3.01" height="3.01" fill="none" stroke="#6BAED6" stroke-width="0.95"/>
<rect x="114.64" y="351.31" width="3.01" height="3.01" fill="none" stroke="#6BAED6" stroke-width="0.95"/>
<rect x="126.18" y="327.44" width="3.01" height="3.01" fill="none" stroke="#6BAED6" stroke-width="0.95"/>
<rect x="126.18" y="344.23" width="3.01" height="3.01" fill="none" stroke="#6BAED6" stroke-width="0.95"/>
<rect x="137.73" y="341.99" width="3.01" height="3.01" fill="none" stroke="#6BAED6" stroke-width="0.95"/>
<rect x="149.28" y="325.39" width="3.01" height="3.01" fill="none" stroke="#6BAED6" stroke-width="0.95"/>
<rect x="149.28" y="333.41" width="3.01" height="3.01" fill="none" stroke="#6BAED6" stroke-width="0.95"/>
<rect x="160.82" y="316.25" width="3.01" height="3.01" fill="none" stroke="#6BAED6" stroke-width="0.95"/>
<rect x="172.37" y="309.54" width="3.01" height="3.01" fill="none" stroke="#6BAED6" stroke-width="0.95"/>
<path d="M35.33 375.25L37.52 377.44L35.33 379.63L33.13 377.44Z" fill="none" stroke="#B3D3EA" stroke-width="0.95" stroke-linejoin="round"/>
<path d="M46.87 364.06L49.07 366.25L46.87 368.44L44.68 366.25Z" fill="none" stroke="#B3D3EA" stroke-width="0.95" stroke-linejoin="round"/>
<path d="M58.42 354.73L60.61 356.92L58.42 359.12L56.22 356.92Z" fill="none" stroke="#B3D3EA" stroke-width="0.95" stroke-linejoin="round"/>
<path d="M69.96 336.45L72.16 338.65L69.96 340.84L67.77 338.65Z" fill="none" stroke="#B3D3EA" stroke-width="0.95" stroke-linejoin="round"/>
<path d="M81.51 352.49L83.70 354.69L81.51 356.88L79.32 354.69Z" fill="none" stroke="#B3D3EA" stroke-width="0.95" stroke-linejoin="round"/>
<path d="M81.51 358.46L83.70 360.65L81.51 362.85L79.32 360.65Z" fill="none" stroke="#B3D3EA" stroke-width="0.95" stroke-linejoin="round"/>
<path d="M93.05 346.90L95.25 349.09L93.05 351.28L90.86 349.09Z" fill="none" stroke="#B3D3EA" stroke-width="0.95" stroke-linejoin="round"/>
<path d="M104.60 342.05L106.79 344.24L104.60 346.44L102.41 344.24Z" fill="none" stroke="#B3D3EA" stroke-width="0.95" stroke-linejoin="round"/>
<path d="M104.60 359.95L106.79 362.15L104.60 364.34L102.41 362.15Z" fill="none" stroke="#B3D3EA" stroke-width="0.95" stroke-linejoin="round"/>
<path d="M116.15 351.19L118.34 353.38L116.15 355.57L113.95 353.38Z" fill="none" stroke="#B3D3EA" stroke-width="0.95" stroke-linejoin="round"/>
<path d="M139.24 323.03L141.43 325.22L139.24 327.41L137.04 325.22Z" fill="none" stroke="#B3D3EA" stroke-width="0.95" stroke-linejoin="round"/>
<path d="M150.78 325.64L152.98 327.83L150.78 330.02L148.59 327.83Z" fill="none" stroke="#B3D3EA" stroke-width="0.95" stroke-linejoin="round"/>
<path d="M162.33 312.96L164.52 315.15L162.33 317.34L160.13 315.15Z" fill="none" stroke="#B3D3EA" stroke-width="0.95" stroke-linejoin="round"/>
<path d="M173.87 306.24L176.07 308.43L173.87 310.63L171.68 308.43Z" fill="none" stroke="#B3D3EA" stroke-width="0.95" stroke-linejoin="round"/>
<line x1="35.33" y1="376.69" x2="173.87" y2="317.76" stroke="#B3D3EA" stroke-width="1.0"/>
<line x1="35.33" y1="373.34" x2="173.87" y2="321.12" stroke="#6BAED6" stroke-width="1.1"/>
<line x1="35.33" y1="370.73" x2="173.87" y2="325.59" stroke="#2166AC" stroke-width="1.2"/>
<line x1="35.33" y1="358.86" x2="173.87" y2="274.75" stroke="#FF1F1F" stroke-width="1.2"/>
<rect x="28.40" y="237.90" width="152.40" height="181.40" fill="none" stroke="#333333" stroke-width="0.6" stroke-opacity="0.8"/>
<line x1="28.40" y1="237.90" x2="180.80" y2="237.90" stroke="#333" stroke-width="1"/>
<line x1="26.00" y1="257.71" x2="28.40" y2="257.71" stroke="#333" stroke-width="0.9"/>
<text x="24.50" y="261.71" text-anchor="end" font-family='"Liberation Sans", sans-serif' font-size="10" fill="#4D4D4D">3</text>
<line x1="26.00" y1="295.01" x2="28.40" y2="295.01" stroke="#333" stroke-width="0.9"/>
<text x="24.50" y="299.01" text-anchor="end" font-family='"Liberation Sans", sans-serif' font-size="10" fill="#4D4D4D">2</text>
<line x1="26.00" y1="332.31" x2="28.40" y2="332.31" stroke="#333" stroke-width="0.9"/>
<text x="24.50" y="336.31" text-anchor="end" font-family='"Liberation Sans", sans-serif' font-size="10" fill="#4D4D4D">1</text>
<line x1="26.00" y1="369.61" x2="28.40" y2="369.61" stroke="#333" stroke-width="0.9"/>
<text x="24.50" y="373.61" text-anchor="end" font-family='"Liberation Sans", sans-serif' font-size="10" fill="#4D4D4D">0</text>
<line x1="26.00" y1="406.91" x2="28.40" y2="406.91" stroke="#333" stroke-width="0.9"/>
<text x="24.50" y="410.91" text-anchor="end" font-family='"Liberation Sans", sans-serif' font-size="10" fill="#4D4D4D">−1</text>
<line x1="28.40" y1="237.90" x2="28.40" y2="419.30" stroke="#333" stroke-width="0.8" stroke-opacity="0.6"/>
<line x1="35.33" y1="419.30" x2="35.33" y2="421.70" stroke="#333" stroke-width="0.9"/>
<text x="35.33" y="431.2" text-anchor="middle" font-family='"Liberation Sans", sans-serif' font-size="10" fill="#4D4D4D">−9</text>
<line x1="58.42" y1="419.30" x2="58.42" y2="421.70" stroke="#333" stroke-width="0.9"/>
<text x="58.42" y="431.2" text-anchor="middle" font-family='"Liberation Sans", sans-serif' font-size="10" fill="#4D4D4D">−8</text>
<line x1="81.51" y1="419.30" x2="81.51" y2="421.70" stroke="#333" stroke-width="0.9"/>
<text x="81.51" y="431.2" text-anchor="middle" font-family='"Liberation Sans", sans-serif' font-size="10" fill="#4D4D4D">−7</text>
<line x1="104.60" y1="419.30" x2="104.60" y2="421.70" stroke="#333" stroke-width="0.9"/>
<text x="104.60" y="431.2" text-anchor="middle" font-family='"Liberation Sans", sans-serif' font-size="10" fill="#4D4D4D">−6</text>
<line x1="127.69" y1="419.30" x2="127.69" y2="421.70" stroke="#333" stroke-width="0.9"/>
<text x="127.69" y="431.2" text-anchor="middle" font-family='"Liberation Sans", sans-serif' font-size="10" fill="#4D4D4D">−5</text>
<line x1="150.78" y1="419.30" x2="150.78" y2="421.70" stroke="#333" stroke-width="0.9"/>
<text x="150.78" y="431.2" text-anchor="middle" font-family='"Liberation Sans", sans-serif' font-size="10" fill="#4D4D4D">−4</text>
<line x1="173.87" y1="419.30" x2="173.87" y2="421.70" stroke="#333" stroke-width="0.9"/>
<text x="173.87" y="431.2" text-anchor="middle" font-family='"Liberation Sans", sans-serif' font-size="10" fill="#4D4D4D">−3</text>
<line x1="28.40" y1="419.30" x2="180.80" y2="419.30" stroke="#333" stroke-width="0.8" stroke-opacity="0.6"/>
<rect x="185.55" y="221.20" width="152.40" height="16.7" fill="#D9D9D9" stroke="#333333" stroke-width="0.6" stroke-opacity="0.8"/>
<text x="261.75" y="233.90" text-anchor="middle" font-family='"Liberation Sans", sans-serif' font-weight="bold" font-size="11.27" fill="#1A1A1A">Scrambled Letters (sL)</text>
<rect x="185.55" y="237.90" width="152.40" height="181.40" fill="#fff"/>
<line x1="192.48" y1="237.90" x2="192.48" y2="419.30" stroke="#EBEBEB" stroke-width="1.0"/>
<line x1="204.02" y1="237.90" x2="204.02" y2="419.30" stroke="#EBEBEB" stroke-width="0.7"/>
<line x1="215.57" y1="237.90" x2="215.57" y2="419.30" stroke="#EBEBEB" stroke-width="1.0"/>
<line x1="227.11" y1="237.90" x2="227.11" y2="419.30" stroke="#EBEBEB" stroke-width="0.7"/>
<line x1="238.66" y1="237.90" x2="238.66" y2="419.30" stroke="#EBEBEB" stroke-width="1.0"/>
<line x1="250.20" y1="237.90" x2="250.20" y2="419.30" stroke="#EBEBEB" stroke-width="0.7"/>
<line x1="261.75" y1="237.90" x2="261.75" y2="419.30" stroke="#EBEBEB" stroke-width="1.0"/>
<line x1="273.30" y1="237.90" x2="273.30" y2="419.30" stroke="#EBEBEB" stroke-width="0.7"/>
<line x1="284.84" y1="237.90" x2="284.84" y2="419.30" stroke="#EBEBEB" stroke-width="1.0"/>
<line x1="296.39" y1="237.90" x2="296.39" y2="419.30" stroke="#EBEBEB" stroke-width="0.7"/>
<line x1="307.93" y1="237.90" x2="307.93" y2="419.30" stroke="#EBEBEB" stroke-width="1.0"/>
<line x1="319.48" y1="237.90" x2="319.48" y2="419.30" stroke="#EBEBEB" stroke-width="0.7"/>
<line x1="331.02" y1="237.90" x2="331.02" y2="419.30" stroke="#EBEBEB" stroke-width="1.0"/>
<line x1="185.55" y1="406.91" x2="337.95" y2="406.91" stroke="#EBEBEB" stroke-width="1.0"/>
<line x1="185.55" y1="388.26" x2="337.95" y2="388.26" stroke="#EBEBEB" stroke-width="0.7"/>
<line x1="185.55" y1="369.61" x2="337.95" y2="369.61" stroke="#EBEBEB" stroke-width="1.0"/>
<line x1="185.55" y1="350.96" x2="337.95" y2="350.96" stroke="#EBEBEB" stroke-width="0.7"/>
<line x1="185.55" y1="332.31" x2="337.95" y2="332.31" stroke="#EBEBEB" stroke-width="1.0"/>
<line x1="185.55" y1="313.66" x2="337.95" y2="313.66" stroke="#EBEBEB" stroke-width="0.7"/>
<line x1="185.55" y1="295.01" x2="337.95" y2="295.01" stroke="#EBEBEB" stroke-width="1.0"/>
<line x1="185.55" y1="276.36" x2="337.95" y2="276.36" stroke="#EBEBEB" stroke-width="0.7"/>
<circle cx="192.48" cy="356.18" r="1.6" fill="none" stroke="#FF1F1F" stroke-width="0.9"/>
<circle cx="204.02" cy="362.71" r="1.6" fill="none" stroke="#FF1F1F" stroke-width="0.9"/>
<circle cx="215.57" cy="335.85" r="1.6" fill="none" stroke="#FF1F1F" stroke-width="0.9"/>
<circle cx="215.57" cy="381.92" r="1.6" fill="none" stroke="#FF1F1F" stroke-width="0.9"/>
<circle cx="227.11" cy="281.58" r="1.6" fill="none" stroke="#FF1F1F" stroke-width="0.9"/>
<circle cx="227.11" cy="346.48" r="1.6" fill="none" stroke="#FF1F1F" stroke-width="0.9"/>
<circle cx="238.66" cy="289.22" r="1.6" fill="none" stroke="#FF1F1F" stroke-width="0.9"/>
<circle cx="238.66" cy="336.60" r="1.6" fill="none" stroke="#FF1F1F" stroke-width="0.9"/>
<circle cx="238.66" cy="352.45" r="1.6" fill="none" stroke="#FF1F1F" stroke-width="0.9"/>
<circle cx="250.20" cy="309.55" r="1.6" fill="none" stroke="#FF1F1F" stroke-width="0.9"/>
<circle cx="250.20" cy="329.88" r="1.6" fill="none" stroke="#FF1F1F" stroke-width="0.9"/>
<circle cx="261.75" cy="303.96" r="1.6" fill="none" stroke="#FF1F1F" stroke-width="0.9"/>
<circle cx="261.75" cy="321.12" r="1.6" fill="none" stroke="#FF1F1F" stroke-width="0.9"/>
<circle cx="261.75" cy="334.92" r="1.6" fill="none" stroke="#FF1F1F" stroke-width="0.9"/>
<circle cx="273.30" cy="315.52" r="1.6" fill="none" stroke="#FF1F1F" stroke-width="0.9"/>
<circle cx="273.30" cy="319.62" r="1.6" fill="none" stroke="#FF1F1F" stroke-width="0.9"/>
<circle cx="284.84" cy="292.02" r="1.6" fill="none" stroke="#FF1F1F" stroke-width="0.9"/>
<circle cx="284.84" cy="302.09" r="1.6" fill="none" stroke="#FF1F1F" stroke-width="0.9"/>
<circle cx="284.84" cy="324.85" r="1.6" fill="none" stroke="#FF1F1F" stroke-width="0.9"/>
<circle cx="296.39" cy="303.21" r="1.6" fill="none" stroke="#FF1F1F" stroke-width="0.9"/>
<circle cx="296.39" cy="312.16" r="1.6" fill="none" stroke="#FF1F1F" stroke-width="0.9"/>
<circle cx="307.93" cy="272.25" r="1.6" fill="none" stroke="#FF1F1F" stroke-width="0.9"/>
<circle cx="307.93" cy="299.11" r="1.6" fill="none" stroke="#FF1F1F" stroke-width="0.9"/>
<circle cx="319.48" cy="290.53" r="1.6" fill="none" stroke="#FF1F1F" stroke-width="0.9"/>
<circle cx="331.02" cy="248.01" r="1.6" fill="none" stroke="#FF1F1F" stroke-width="0.9"/>
<path d="M192.48 398.52L194.77 402.49L190.19 402.49Z" fill="none" stroke="#2166AC" stroke-width="0.95" stroke-linejoin="round"/>
<path d="M204.02 384.35L206.31 388.31L201.73 388.31Z" fill="none" stroke="#2166AC" stroke-width="0.95" stroke-linejoin="round"/>
<path d="M215.57 376.14L217.86 380.11L213.28 380.11Z" fill="none" stroke="#2166AC" stroke-width="0.95" stroke-linejoin="round"/>
<path d="M215.57 393.30L217.86 397.27L213.28 397.27Z" fill="none" stroke="#2166AC" stroke-width="0.95" stroke-linejoin="round"/>
<path d="M227.11 344.44L229.40 348.40L224.82 348.40Z" fill="none" stroke="#2166AC" stroke-width="0.95" stroke-linejoin="round"/>
<path d="M227.11 385.65L229.40 389.62L224.82 389.62Z" fill="none" stroke="#2166AC" stroke-width="0.95" stroke-linejoin="round"/>
<path d="M238.66 309.37L240.95 313.34L236.37 313.34Z" fill="none" stroke="#2166AC" stroke-width="0.95" stroke-linejoin="round"/>
<path d="M238.66 370.92L240.95 374.89L236.37 374.89Z" fill="none" stroke="#2166AC" stroke-width="0.95" stroke-linejoin="round"/>
<path d="M250.20 336.98L252.49 340.94L247.91 340.94Z" fill="none" stroke="#2166AC" stroke-width="0.95" stroke-linejoin="round"/>
<path d="M250.20 361.59L252.49 365.56L247.91 365.56Z" fill="none" stroke="#2166AC" stroke-width="0.95" stroke-linejoin="round"/>
<path d="M261.75 324.67L264.04 328.63L259.46 328.63Z" fill="none" stroke="#2166AC" stroke-width="0.95" stroke-linejoin="round"/>
<path d="M261.75 348.91L264.04 352.88L259.46 352.88Z" fill="none" stroke="#2166AC" stroke-width="0.95" stroke-linejoin="round"/>
<path d="M273.30 341.45L275.59 345.42L271.01 345.42Z" fill="none" stroke="#2166AC" stroke-width="0.95" stroke-linejoin="round"/>
<path d="M284.84 292.96L287.13 296.93L282.55 296.93Z" fill="none" stroke="#2166AC" stroke-width="0.95" stroke-linejoin="round"/>
<path d="M284.84 338.10L287.13 342.06L282.55 342.06Z" fill="none" stroke="#2166AC" stroke-width="0.95" stroke-linejoin="round"/>
<path d="M296.39 318.33L298.68 322.29L294.10 322.29Z" fill="none" stroke="#2166AC" stroke-width="0.95" stroke-linejoin="round"/>
<path d="M307.93 316.46L310.22 320.43L305.64 320.43Z" fill="none" stroke="#2166AC" stroke-width="0.95" stroke-linejoin="round"/>
<path d="M307.93 298.18L310.22 302.15L305.64 302.15Z" fill="none" stroke="#2166AC" stroke-width="0.95" stroke-linejoin="round"/>
<path d="M319.48 287.74L321.77 291.71L317.19 291.71Z" fill="none" stroke="#2166AC" stroke-width="0.95" stroke-linejoin="round"/>
<path d="M331.02 253.98L333.31 257.95L328.73 257.95Z" fill="none" stroke="#2166AC" stroke-width="0.95" stroke-linejoin="round"/>
<rect x="202.52" y="398.69" width="3.01" height="3.01" fill="none" stroke="#6BAED6" stroke-width="0.95"/>
<rect x="214.06" y="371.83" width="3.01" height="3.01" fill="none" stroke="#6BAED6" stroke-width="0.95"/>
<rect x="214.06" y="389.36" width="3.01" height="3.01" fill="none" stroke="#6BAED6" stroke-width="0.95"/>
<rect x="225.61" y="322.22" width="3.01" height="3.01" fill="none" stroke="#6BAED6" stroke-width="0.95"/>
<rect x="225.61" y="381.53" width="3.01" height="3.01" fill="none" stroke="#6BAED6" stroke-width="0.95"/>
<rect x="237.15" y="299.84" width="3.01" height="3.01" fill="none" stroke="#6BAED6" stroke-width="0.95"/>
<rect x="237.15" y="379.29" width="3.01" height="3.01" fill="none" stroke="#6BAED6" stroke-width="0.95"/>
<rect x="248.70" y="328.19" width="3.01" height="3.01" fill="none" stroke="#6BAED6" stroke-width="0.95"/>
<rect x="248.70" y="370.34" width="3.01" height="3.01" fill="none" stroke="#6BAED6" stroke-width="0.95"/>
<rect x="260.24" y="306.55" width="3.01" height="3.01" fill="none" stroke="#6BAED6" stroke-width="0.95"/>
<rect x="260.24" y="350.57" width="3.01" height="3.01" fill="none" stroke="#6BAED6" stroke-width="0.95"/>
<rect x="271.79" y="322.22" width="3.01" height="3.01" fill="none" stroke="#6BAED6" stroke-width="0.95"/>
<rect x="271.79" y="345.35" width="3.01" height="3.01" fill="none" stroke="#6BAED6" stroke-width="0.95"/>
<rect x="283.33" y="327.44" width="3.01" height="3.01" fill="none" stroke="#6BAED6" stroke-width="0.95"/>
<rect x="283.33" y="321.10" width="3.01" height="3.01" fill="none" stroke="#6BAED6" stroke-width="0.95"/>
<rect x="294.88" y="302.45" width="3.01" height="3.01" fill="none" stroke="#6BAED6" stroke-width="0.95"/>
<rect x="294.88" y="330.43" width="3.01" height="3.01" fill="none" stroke="#6BAED6" stroke-width="0.95"/>
<rect x="306.43" y="312.52" width="3.01" height="3.01" fill="none" stroke="#6BAED6" stroke-width="0.95"/>
<rect x="306.43" y="293.13" width="3.01" height="3.01" fill="none" stroke="#6BAED6" stroke-width="0.95"/>
<rect x="329.52" y="278.21" width="3.01" height="3.01" fill="none" stroke="#6BAED6" stroke-width="0.95"/>
<rect x="283.33" y="358.40" width="3.01" height="3.01" fill="none" stroke="#6BAED6" stroke-width="0.95"/>
<path d="M192.48 379.91L194.67 382.10L192.48 384.30L190.28 382.10Z" fill="none" stroke="#B3D3EA" stroke-width="0.95" stroke-linejoin="round"/>
<path d="M204.02 379.91L206.22 382.10L204.02 384.30L201.83 382.10Z" fill="none" stroke="#B3D3EA" stroke-width="0.95" stroke-linejoin="round"/>
<path d="M215.57 352.49L217.76 354.69L215.57 356.88L213.37 354.69Z" fill="none" stroke="#B3D3EA" stroke-width="0.95" stroke-linejoin="round"/>
<path d="M215.57 383.45L217.76 385.65L215.57 387.84L213.37 385.65Z" fill="none" stroke="#B3D3EA" stroke-width="0.95" stroke-linejoin="round"/>
<path d="M227.11 376.37L229.31 378.56L227.11 380.75L224.92 378.56Z" fill="none" stroke="#B3D3EA" stroke-width="0.95" stroke-linejoin="round"/>
<path d="M238.66 320.42L240.85 322.61L238.66 324.80L236.47 322.61Z" fill="none" stroke="#B3D3EA" stroke-width="0.95" stroke-linejoin="round"/>
<path d="M238.66 362.94L240.85 365.13L238.66 367.32L236.47 365.13Z" fill="none" stroke="#B3D3EA" stroke-width="0.95" stroke-linejoin="round"/>
<path d="M250.20 347.27L252.40 349.46L250.20 351.66L248.01 349.46Z" fill="none" stroke="#B3D3EA" stroke-width="0.95" stroke-linejoin="round"/>
<path d="M273.30 328.25L275.49 330.44L273.30 332.63L271.10 330.44Z" fill="none" stroke="#B3D3EA" stroke-width="0.95" stroke-linejoin="round"/>
<path d="M284.84 296.17L287.03 298.36L284.84 300.56L282.65 298.36Z" fill="none" stroke="#B3D3EA" stroke-width="0.95" stroke-linejoin="round"/>
<path d="M284.84 334.03L287.03 336.22L284.84 338.42L282.65 336.22Z" fill="none" stroke="#B3D3EA" stroke-width="0.95" stroke-linejoin="round"/>
<path d="M296.39 330.11L298.58 332.31L296.39 334.50L294.19 332.31Z" fill="none" stroke="#B3D3EA" stroke-width="0.95" stroke-linejoin="round"/>
<path d="M273.30 337.57L275.49 339.77L273.30 341.96L271.10 339.77Z" fill="none" stroke="#B3D3EA" stroke-width="0.95" stroke-linejoin="round"/>
<path d="M307.93 316.31L310.13 318.51L307.93 320.70L305.74 318.51Z" fill="none" stroke="#B3D3EA" stroke-width="0.95" stroke-linejoin="round"/>
<path d="M319.48 296.17L321.67 298.36L319.48 300.56L317.28 298.36Z" fill="none" stroke="#B3D3EA" stroke-width="0.95" stroke-linejoin="round"/>
<path d="M331.02 282.37L333.22 284.56L331.02 286.76L328.83 284.56Z" fill="none" stroke="#B3D3EA" stroke-width="0.95" stroke-linejoin="round"/>
<line x1="192.48" y1="381.54" x2="331.02" y2="290.16" stroke="#B3D3EA" stroke-width="1.0"/>
<line x1="192.48" y1="394.78" x2="331.02" y2="289.04" stroke="#6BAED6" stroke-width="1.1"/>
<line x1="192.48" y1="401.31" x2="331.02" y2="280.83" stroke="#2166AC" stroke-width="1.2"/>
<line x1="192.48" y1="358.86" x2="331.02" y2="274.75" stroke="#FF1F1F" stroke-width="1.2"/>
<rect x="185.55" y="237.90" width="152.40" height="181.40" fill="none" stroke="#333333" stroke-width="0.6" stroke-opacity="0.8"/>
<line x1="185.55" y1="237.90" x2="337.95" y2="237.90" stroke="#333" stroke-width="1"/>
<line x1="192.48" y1="419.30" x2="192.48" y2="421.70" stroke="#333" stroke-width="0.9"/>
<text x="192.48" y="431.2" text-anchor="middle" font-family='"Liberation Sans", sans-serif' font-size="10" fill="#4D4D4D">−9</text>
<line x1="215.57" y1="419.30" x2="215.57" y2="421.70" stroke="#333" stroke-width="0.9"/>
<text x="215.57" y="431.2" text-anchor="middle" font-family='"Liberation Sans", sans-serif' font-size="10" fill="#4D4D4D">−8</text>
<line x1="238.66" y1="419.30" x2="238.66" y2="421.70" stroke="#333" stroke-width="0.9"/>
<text x="238.66" y="431.2" text-anchor="middle" font-family='"Liberation Sans", sans-serif' font-size="10" fill="#4D4D4D">−7</text>
<line x1="261.75" y1="419.30" x2="261.75" y2="421.70" stroke="#333" stroke-width="0.9"/>
<text x="261.75" y="431.2" text-anchor="middle" font-family='"Liberation Sans", sans-serif' font-size="10" fill="#4D4D4D">−6</text>
<line x1="284.84" y1="419.30" x2="284.84" y2="421.70" stroke="#333" stroke-width="0.9"/>
<text x="284.84" y="431.2" text-anchor="middle" font-family='"Liberation Sans", sans-serif' font-size="10" fill="#4D4D4D">−5</text>
<line x1="307.93" y1="419.30" x2="307.93" y2="421.70" stroke="#333" stroke-width="0.9"/>
<text x="307.93" y="431.2" text-anchor="middle" font-family='"Liberation Sans", sans-serif' font-size="10" fill="#4D4D4D">−4</text>
<line x1="331.02" y1="419.30" x2="331.02" y2="421.70" stroke="#333" stroke-width="0.9"/>
<text x="331.02" y="431.2" text-anchor="middle" font-family='"Liberation Sans", sans-serif' font-size="10" fill="#4D4D4D">−3</text>
<line x1="185.55" y1="419.30" x2="337.95" y2="419.30" stroke="#333" stroke-width="0.8" stroke-opacity="0.6"/>
<text x="183.2" y="444.2" text-anchor="middle" font-family='"Liberation Sans", sans-serif' font-size="11.42" fill="#000">Launch−site distance to word center</text>
<text transform="translate(8.3,226.9) rotate(-90)" x="0" y="0" text-anchor="middle" font-family='"Liberation Sans", sans-serif' font-size="11.37" fill="#000">Center−based mean landing position</text>
<text x="1.6" y="467.6" font-family='"Liberation Serif", serif' font-size="17.4" fill="#000">(a)</text>
<text x="39.7" y="469.8" font-family='"Liberation Sans", sans-serif' font-weight="bold" font-size="12.9" fill="#000">Session:</text>
<line x1="99.0" y1="464.9" x2="110.0" y2="464.9" stroke="#FF1F1F" stroke-width="1.4" stroke-opacity="0.75"/><circle cx="104.50" cy="464.90" r="1.7" fill="none" stroke="#FF1F1F" stroke-width="0.9"/>
<text x="113.7" y="468.4" font-family='"Liberation Sans", sans-serif' font-size="9.58" fill="#000">Control</text>
<line x1="148.0" y1="464.9" x2="159.3" y2="464.9" stroke="#2166AC" stroke-width="1.4" stroke-opacity="0.75"/><path d="M153.65 462.26L155.94 466.22L151.36 466.22Z" fill="none" stroke="#2166AC" stroke-width="0.9" stroke-linejoin="round"/>
<text x="162.7" y="468.4" font-family='"Liberation Sans", sans-serif' font-size="9.58" fill="#000">Session 1</text>
<line x1="209.0" y1="464.9" x2="219.8" y2="464.9" stroke="#6BAED6" stroke-width="1.4" stroke-opacity="0.75"/><rect x="212.89" y="463.39" width="3.01" height="3.01" fill="none" stroke="#6BAED6" stroke-width="0.9"/>
<text x="223.5" y="468.4" font-family='"Liberation Sans", sans-serif' font-size="9.58" fill="#000">Session 2</text>
<line x1="269.5" y1="464.9" x2="280.1" y2="464.9" stroke="#B3D3EA" stroke-width="1.4" stroke-opacity="0.75"/><path d="M274.80 462.77L276.93 464.90L274.80 467.03L272.67 464.90Z" fill="none" stroke="#B3D3EA" stroke-width="0.9" stroke-linejoin="round"/>
<text x="283.8" y="468.4" font-family='"Liberation Sans", sans-serif' font-size="9.58" fill="#000">Session 3</text>
<rect x="380.8" y="17.7" width="303.30" height="401.50" fill="#fff"/>
<line x1="380.8" y1="322.35" x2="684.1" y2="322.35" stroke="#EBEBEB" stroke-width="0.7"/>
<line x1="380.8" y1="283.80" x2="684.1" y2="283.80" stroke="#EBEBEB" stroke-width="1.0"/>
<line x1="380.8" y1="245.25" x2="684.1" y2="245.25" stroke="#EBEBEB" stroke-width="0.7"/>
<line x1="380.8" y1="206.70" x2="684.1" y2="206.70" stroke="#EBEBEB" stroke-width="1.0"/>
<line x1="380.8" y1="168.15" x2="684.1" y2="168.15" stroke="#EBEBEB" stroke-width="0.7"/>
<line x1="380.8" y1="129.60" x2="684.1" y2="129.60" stroke="#EBEBEB" stroke-width="1.0"/>
<line x1="380.8" y1="91.05" x2="684.1" y2="91.05" stroke="#EBEBEB" stroke-width="0.7"/>
<line x1="380.8" y1="52.50" x2="684.1" y2="52.50" stroke="#EBEBEB" stroke-width="1.0"/>
<line x1="437.5" y1="17.7" x2="437.5" y2="419.2" stroke="#EBEBEB" stroke-width="1"/>
<line x1="532.7" y1="17.7" x2="532.7" y2="419.2" stroke="#EBEBEB" stroke-width="1"/>
<line x1="627.9" y1="17.7" x2="627.9" y2="419.2" stroke="#EBEBEB" stroke-width="1"/>
<line x1="380.8" y1="225.55" x2="684.1" y2="225.55" stroke="#FB6C42" stroke-width="2.2" stroke-dasharray="8.4 8.4"/>
<text x="383.8" y="224.3" font-family='"Liberation Sans", sans-serif' font-size="18.39" fill="#000">Control</text>
<path d="M433.90 295.83 L529.10 321.73 L624.30 341.39" fill="none" stroke="#EE00EE" stroke-width="1.3"/>
<path d="M436.30 176.40 L531.50 222.66 L626.70 230.83" fill="none" stroke="#2ECD2E" stroke-width="1.0" stroke-dasharray="1.2 2.2 3.8 2.2"/>
<path d="M438.70 343.71 L533.90 316.03 L629.10 288.12" fill="none" stroke="#00E5EE" stroke-width="1.1" stroke-dasharray="1.2 2.2 3.8 2.2"/>
<path d="M441.10 112.25 L536.30 146.87 L631.50 194.98" fill="none" stroke="#CDCD00" stroke-width="1.3" stroke-dasharray="5.2 3.2"/>
<path d="M433.90 290.07L438.88 298.70L428.92 298.70Z" fill="none" stroke="#EE00EE" stroke-width="2.5" stroke-linejoin="round"/>
<path d="M436.30 170.65L441.28 179.28L431.32 179.28Z" fill="none" stroke="#2ECD2E" stroke-width="2.5" stroke-linejoin="round"/>
<path d="M438.70 337.95L443.68 346.58L433.72 346.58Z" fill="none" stroke="#00E5EE" stroke-width="2.5" stroke-linejoin="round"/>
<path d="M441.10 106.50L446.08 115.13L436.12 115.13Z" fill="none" stroke="#CDCD00" stroke-width="2.5" stroke-linejoin="round"/>
<rect x="525.82" y="318.45" width="6.56" height="6.56" fill="none" stroke="#EE00EE" stroke-width="2.5"/>
<rect x="528.22" y="219.38" width="6.56" height="6.56" fill="none" stroke="#2ECD2E" stroke-width="2.5"/>
<rect x="530.62" y="312.75" width="6.56" height="6.56" fill="none" stroke="#00E5EE" stroke-width="2.5"/>
<rect x="533.02" y="143.59" width="6.56" height="6.56" fill="none" stroke="#CDCD00" stroke-width="2.5"/>
<path d="M624.30 336.76L628.94 341.39L624.30 346.03L619.66 341.39Z" fill="none" stroke="#EE00EE" stroke-width="2.5" stroke-linejoin="round"/>
<path d="M626.70 226.20L631.34 230.83L626.70 235.47L622.06 230.83Z" fill="none" stroke="#2ECD2E" stroke-width="2.5" stroke-linejoin="round"/>
<path d="M629.10 283.48L633.74 288.12L629.10 292.75L624.46 288.12Z" fill="none" stroke="#00E5EE" stroke-width="2.5" stroke-linejoin="round"/>
<path d="M631.50 190.34L636.14 194.98L631.50 199.62L626.86 194.98Z" fill="none" stroke="#CDCD00" stroke-width="2.5" stroke-linejoin="round"/>
<g stroke="#EE00EE" stroke-opacity="0.78"><path d="M433.90 238.31V353.27" stroke-width="1.42"/><path d="M432.40 238.31H435.40M432.40 353.27H435.40" stroke-width="1.2"/></g>
<g stroke="#2ECD2E" stroke-opacity="0.78"><path d="M436.30 108.78V243.32" stroke-width="1.42"/><path d="M434.80 108.78H437.80M434.80 243.32H437.80" stroke-width="1.2"/></g>
<g stroke="#00E5EE" stroke-opacity="0.78"><path d="M438.70 286.42V401.30" stroke-width="1.42"/><path d="M437.20 286.42H440.20M437.20 401.30H440.20" stroke-width="1.2"/></g>
<g stroke="#CDCD00" stroke-opacity="0.78"><path d="M441.10 35.54V188.97" stroke-width="1.42"/><path d="M439.60 35.54H442.60M439.60 188.97H442.60" stroke-width="1.2"/></g>
<g stroke="#EE00EE" stroke-opacity="0.78"><path d="M529.10 255.50V387.35" stroke-width="1.42"/><path d="M527.60 255.50H530.60M527.60 387.35H530.60" stroke-width="1.2"/></g>
<g stroke="#2ECD2E" stroke-opacity="0.78"><path d="M531.50 133.30V313.10" stroke-width="1.42"/><path d="M530.00 133.30H533.00M530.00 313.10H533.00" stroke-width="1.2"/></g>
<g stroke="#00E5EE" stroke-opacity="0.78"><path d="M533.90 267.92V364.06" stroke-width="1.42"/><path d="M532.40 267.92H535.40M532.40 364.06H535.40" stroke-width="1.2"/></g>
<g stroke="#CDCD00" stroke-opacity="0.78"><path d="M536.30 43.25V250.11" stroke-width="1.42"/><path d="M534.80 43.25H537.80M534.80 250.11H537.80" stroke-width="1.2"/></g>
<g stroke="#EE00EE" stroke-opacity="0.78"><path d="M624.30 290.20V392.20" stroke-width="1.42"/><path d="M622.80 290.20H625.80M622.80 392.20H625.80" stroke-width="1.2"/></g>
<g stroke="#2ECD2E" stroke-opacity="0.78"><path d="M626.70 142.09V319.27" stroke-width="1.42"/><path d="M625.20 142.09H628.20M625.20 319.27H628.20" stroke-width="1.2"/></g>
<g stroke="#00E5EE" stroke-opacity="0.78"><path d="M629.10 238.31V337.08" stroke-width="1.42"/><path d="M627.60 238.31H630.60M627.60 337.08H630.60" stroke-width="1.2"/></g>
<g stroke="#CDCD00" stroke-opacity="0.78"><path d="M631.50 111.10V278.87" stroke-width="1.42"/><path d="M630.00 111.10H633.00M630.00 278.87H633.00" stroke-width="1.2"/></g>
<rect x="380.8" y="17.7" width="303.30" height="401.50" fill="none" stroke="#333333" stroke-width="0.6" stroke-opacity="0.8"/>
<line x1="380.8" y1="17.7" x2="380.8" y2="419.2" stroke="#333" stroke-width="0.8" stroke-opacity="0.6"/>
<line x1="380.8" y1="419.2" x2="684.1" y2="419.2" stroke="#333" stroke-width="0.8" stroke-opacity="0.6"/>
<line x1="378.40" y1="360.90" x2="380.8" y2="360.90" stroke="#333" stroke-width="0.9"/>
<text x="376.30" y="364.90" text-anchor="end" font-family='"Liberation Sans", sans-serif' font-size="10" fill="#4D4D4D">0.2</text>
<line x1="378.40" y1="283.80" x2="380.8" y2="283.80" stroke="#333" stroke-width="0.9"/>
<text x="376.30" y="287.80" text-anchor="end" font-family='"Liberation Sans", sans-serif' font-size="10" fill="#4D4D4D">0.3</text>
<line x1="378.40" y1="206.70" x2="380.8" y2="206.70" stroke="#333" stroke-width="0.9"/>
<text x="376.30" y="210.70" text-anchor="end" font-family='"Liberation Sans", sans-serif' font-size="10" fill="#4D4D4D">0.4</text>
<line x1="378.40" y1="129.60" x2="380.8" y2="129.60" stroke="#333" stroke-width="0.9"/>
<text x="376.30" y="133.60" text-anchor="end" font-family='"Liberation Sans", sans-serif' font-size="10" fill="#4D4D4D">0.5</text>
<line x1="378.40" y1="52.50" x2="380.8" y2="52.50" stroke="#333" stroke-width="0.9"/>
<text x="376.30" y="56.50" text-anchor="end" font-family='"Liberation Sans", sans-serif' font-size="10" fill="#4D4D4D">0.6</text>
<line x1="437.5" y1="419.2" x2="437.5" y2="421.59999999999997" stroke="#333" stroke-width="0.9"/>
<text x="437.5" y="431.6" text-anchor="middle" font-family='"Liberation Sans", sans-serif' font-size="10.5" fill="#4D4D4D">Session 1</text>
<line x1="532.7" y1="419.2" x2="532.7" y2="421.59999999999997" stroke="#333" stroke-width="0.9"/>
<text x="532.7" y="431.6" text-anchor="middle" font-family='"Liberation Sans", sans-serif' font-size="10.5" fill="#4D4D4D">Session 2</text>
<line x1="627.9" y1="419.2" x2="627.9" y2="421.59999999999997" stroke="#333" stroke-width="0.9"/>
<text x="627.9" y="431.6" text-anchor="middle" font-family='"Liberation Sans", sans-serif' font-size="10.5" fill="#4D4D4D">Session 3</text>
<text x="532.45" y="444.2" text-anchor="middle" font-family='"Liberation Sans", sans-serif' font-size="11.42" fill="#000">Session</text>
<text transform="translate(355.1,218.4) rotate(-90)" x="0" y="0" text-anchor="middle" font-family='"Liberation Sans", sans-serif' font-size="11.18" fill="#000">Slope</text>
<text x="391.6" y="469.4" font-family='"Liberation Serif", serif' font-size="17.4" fill="#000">(b)</text>
<text x="438.3" y="469.8" font-family='"Liberation Sans", sans-serif' font-weight="bold" font-size="12.9" fill="#000">Condition:</text>
<line x1="507.9" y1="464.9" x2="518.7" y2="464.9" stroke="#EE00EE" stroke-opacity="0.6" stroke-width="1.9"/>
<text x="522.2" y="468.4" font-family='"Liberation Sans", sans-serif' font-size="9.58" fill="#000">mW</text>
<line x1="542.9" y1="464.9" x2="553.8" y2="464.9" stroke="#2ECD2E" stroke-opacity="0.6" stroke-width="1.9"/>
<text x="557.5" y="468.4" font-family='"Liberation Sans", sans-serif' font-size="9.58" fill="#000">mL</text>
<line x1="573.9" y1="464.9" x2="585.0" y2="464.9" stroke="#00E5EE" stroke-opacity="0.6" stroke-width="1.9"/>
<text x="588.5" y="468.4" font-family='"Liberation Sans", sans-serif' font-size="9.58" fill="#000">iW</text>
<line x1="603.1" y1="464.9" x2="614.1" y2="464.9" stroke="#CDCD00" stroke-opacity="0.6" stroke-width="1.9"/>
<text x="617.5" y="468.4" font-family='"Liberation Sans", sans-serif' font-size="9.58" fill="#000">sL</text>
</svg>
</body></html>
